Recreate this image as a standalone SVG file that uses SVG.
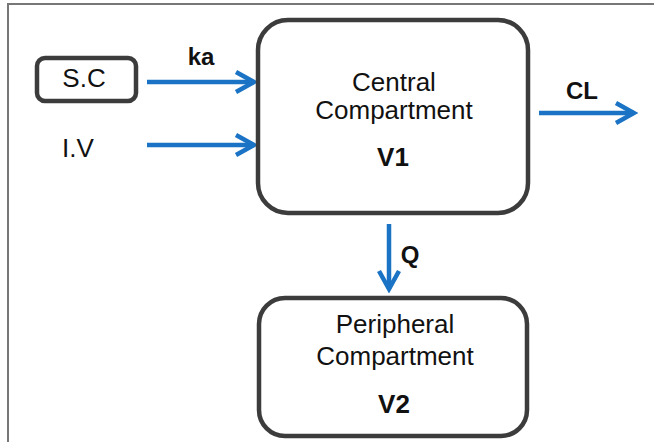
<svg xmlns="http://www.w3.org/2000/svg" width="654" height="442" viewBox="0 0 654 442">
<defs>
<style>
.box{fill:#fff;stroke:#3c3c3c;stroke-width:4.5}
.t{font-family:"Liberation Sans",Arial,sans-serif;font-size:26px;fill:#111;text-anchor:middle}
.b{font-weight:bold}
.s{font-size:24px}
.arr{stroke:#1a73c4;stroke-width:4.5;fill:none;marker-end:url(#chev)}
</style>
<marker id="chev" markerUnits="userSpaceOnUse" viewBox="-24 -14 28 28" markerWidth="28" markerHeight="28" refX="0" refY="0" orient="auto">
<path d="M-18,-10 L0,0 L-18,10" fill="none" stroke="#1a73c4" stroke-width="4.5" stroke-linejoin="miter"/>
</marker>
</defs>
<rect width="654" height="442" fill="#fff"/>
<g id="frame">
<line x1="7" y1="4" x2="654" y2="4" stroke="#777" stroke-width="2"/>
<line x1="8" y1="3" x2="8" y2="442" stroke="#777" stroke-width="2"/>
</g>
<g id="connectors">
<line class="arr" x1="147" y1="82" x2="254" y2="82"/>
<line class="arr" x1="147" y1="145" x2="254" y2="145"/>
<line class="arr" x1="539" y1="113" x2="634" y2="113"/>
<line class="arr" x1="389" y1="224" x2="389" y2="289"/>
<text class="t b s" x="201" y="65">ka</text>
<text class="t b s" x="582" y="99">CL</text>
<text class="t b s" x="410" y="263">Q</text>
</g>
<g id="sc">
<rect class="box" x="37" y="58" width="99" height="43" rx="8"/>
<text class="t" x="84" y="87">S.C</text>
</g>
<g id="iv">
<text class="t" x="78" y="157">I.V</text>
</g>
<g id="central">
<rect class="box" x="258" y="20" width="270" height="193" rx="30"/>
<text class="t" x="394" y="91">Central</text>
<text class="t" x="394" y="119">Compartment</text>
<text class="t b" x="393" y="166">V1</text>
</g>
<g id="peripheral">
<rect class="box" x="259" y="298" width="268" height="138" rx="26"/>
<text class="t" x="395" y="333">Peripheral</text>
<text class="t" x="395" y="365">Compartment</text>
<text class="t b" x="394" y="413">V2</text>
</g>
</svg>
